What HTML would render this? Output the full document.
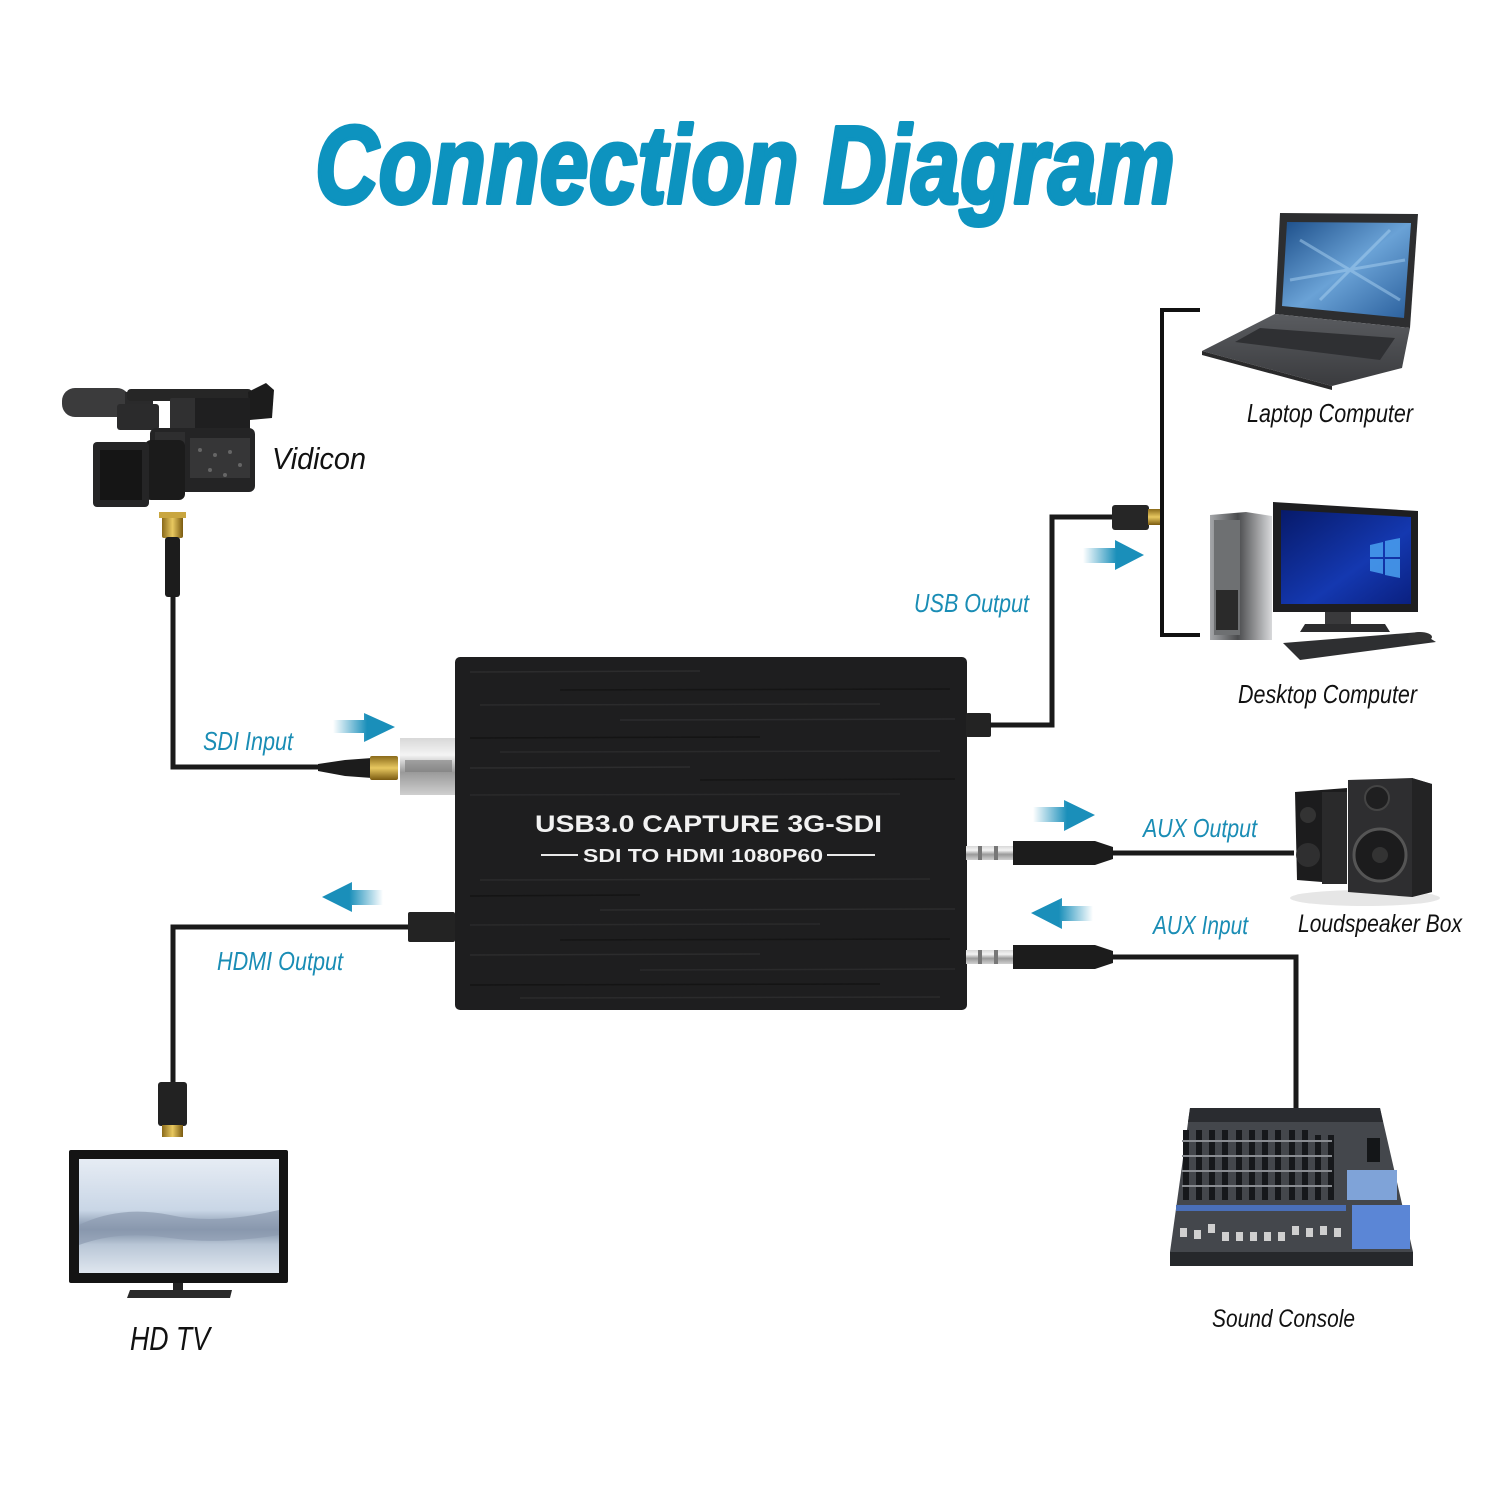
<!DOCTYPE html>
<html>
<head>
<meta charset="utf-8">
<style>
html,body{margin:0;padding:0;background:#fff;}
svg{display:block;}
.lbl{font-family:"Liberation Sans",sans-serif;font-style:italic;fill:#1a8db5;}
.blk{font-family:"Liberation Sans",sans-serif;font-style:italic;fill:#111;}
</style>
</head>
<body>
<svg width="1500" height="1500" viewBox="0 0 1500 1500" xmlns="http://www.w3.org/2000/svg">
<defs>
  <linearGradient id="arR" x1="0" x2="1" y1="0" y2="0">
    <stop offset="0" stop-color="#1a8fba" stop-opacity="0"/>
    <stop offset="0.55" stop-color="#1a8fba" stop-opacity="1"/>
    <stop offset="1" stop-color="#1a8fba"/>
  </linearGradient>
  <linearGradient id="arL" x1="1" x2="0" y1="0" y2="0">
    <stop offset="0" stop-color="#1a8fba" stop-opacity="0"/>
    <stop offset="0.55" stop-color="#1a8fba" stop-opacity="1"/>
    <stop offset="1" stop-color="#1a8fba"/>
  </linearGradient>
  <linearGradient id="gold" x1="0" x2="0" y1="0" y2="1">
    <stop offset="0" stop-color="#8a6a1a"/>
    <stop offset="0.5" stop-color="#e8c860"/>
    <stop offset="1" stop-color="#7a5a10"/>
  </linearGradient>
  <linearGradient id="goldH" x1="0" x2="1" y1="0" y2="0">
    <stop offset="0" stop-color="#8a6a1a"/>
    <stop offset="0.5" stop-color="#e8c860"/>
    <stop offset="1" stop-color="#7a5a10"/>
  </linearGradient>
  <linearGradient id="silver" x1="0" x2="0" y1="0" y2="1">
    <stop offset="0" stop-color="#d8d8d8"/>
    <stop offset="0.3" stop-color="#f4f4f4"/>
    <stop offset="0.6" stop-color="#9a9a9a"/>
    <stop offset="1" stop-color="#cfcfcf"/>
  </linearGradient>
  <linearGradient id="lapScr" x1="0" x2="1" y1="0" y2="1">
    <stop offset="0" stop-color="#1d4f8a"/>
    <stop offset="0.5" stop-color="#6aa2d6"/>
    <stop offset="1" stop-color="#2a5f9c"/>
  </linearGradient>
  <linearGradient id="deskScr" x1="0" x2="1" y1="0" y2="1">
    <stop offset="0" stop-color="#071a6a"/>
    <stop offset="0.6" stop-color="#1438b0"/>
    <stop offset="1" stop-color="#0a2080"/>
  </linearGradient>
  <linearGradient id="tvScr" x1="0" x2="0" y1="0" y2="1">
    <stop offset="0" stop-color="#e6ecf4"/>
    <stop offset="0.45" stop-color="#c9d6e6"/>
    <stop offset="0.62" stop-color="#7e8fa6"/>
    <stop offset="0.75" stop-color="#b9c6d6"/>
    <stop offset="1" stop-color="#dfe6ef"/>
  </linearGradient>
  <linearGradient id="lapBase" x1="0" x2="0" y1="0" y2="1">
    <stop offset="0" stop-color="#5a5c60"/>
    <stop offset="1" stop-color="#3a3b3e"/>
  </linearGradient>
  <linearGradient id="tower" x1="0" x2="1" y1="0" y2="0">
    <stop offset="0" stop-color="#a5a7aa"/>
    <stop offset="0.45" stop-color="#4a4b4d"/>
    <stop offset="1" stop-color="#d8d9db"/>
  </linearGradient>
</defs>

<rect width="1500" height="1500" fill="#fff"/>

<!-- Title -->
<text x="315" y="203" font-family="'Liberation Sans',sans-serif" font-weight="bold" font-style="italic" font-size="110" fill="#0d93bf" stroke="#0d93bf" stroke-width="4" stroke-linejoin="round" textLength="860" lengthAdjust="spacingAndGlyphs">Connection Diagram</text>

<!-- ============ Camera ============ -->
<g>
  <rect x="62" y="388" width="68" height="29" rx="13" fill="#3b3b3c"/>
  <rect x="125" y="392" width="28" height="20" fill="#2a2a2b"/>
  <rect x="127" y="389" width="125" height="12" rx="4" fill="#262626"/>
  <path d="M248 392 L266 383 L274 390 L272 418 L250 420 Z" fill="#1c1c1c"/>
  <rect x="117" y="404" width="42" height="26" rx="3" fill="#2b2b2c"/>
  <rect x="170" y="398" width="52" height="32" rx="2" fill="#303031"/>
  <rect x="195" y="398" width="55" height="36" fill="#1f1f20"/>
  <rect x="150" y="428" width="105" height="64" rx="6" fill="#242425"/>
  <rect x="190" y="438" width="60" height="40" fill="#363637"/>
  <rect x="155" y="432" width="30" height="58" fill="#2e2e2f"/>
  <rect x="145" y="440" width="40" height="60" rx="6" fill="#1b1b1b"/>
  <rect x="93" y="442" width="56" height="65" rx="4" fill="#252526"/>
  <rect x="100" y="450" width="42" height="50" fill="#151515"/>
  <circle cx="200" cy="450" r="2" fill="#666"/><circle cx="215" cy="455" r="2" fill="#666"/>
  <circle cx="230" cy="452" r="2" fill="#666"/><circle cx="240" cy="465" r="2" fill="#666"/>
  <circle cx="210" cy="470" r="2" fill="#666"/><circle cx="225" cy="475" r="2" fill="#666"/>
</g>
<text class="blk" x="272" y="469" font-size="31" textLength="94" lengthAdjust="spacingAndGlyphs">Vidicon</text>

<!-- SDI cable from camera -->
<rect x="162" y="512" width="21" height="26" rx="2" fill="url(#goldH)"/>
<rect x="159" y="512" width="27" height="6" fill="#c9a640"/>
<rect x="165" y="537" width="15" height="60" rx="3" fill="#1c1c1c"/>
<path d="M173 595 L173 767 L322 767" stroke="#1a1a1a" stroke-width="5" fill="none"/>
<path d="M318 764 L345 760 L372 758 L372 778 L345 776 L318 771 Z" fill="#1c1c1c"/>
<rect x="370" y="756" width="28" height="24" rx="2" fill="url(#gold)"/>
<!-- silver BNC on device -->
<rect x="400" y="738" width="57" height="57" fill="url(#silver)"/>
<rect x="405" y="760" width="47" height="12" fill="#7a7a7a" opacity="0.6"/>

<!-- SDI arrow -->
<polygon points="333,720 364,720 364,713 395,727 364,742 364,733 333,733" fill="url(#arR)"/>
<text class="lbl" x="203" y="750" font-size="26" textLength="90" lengthAdjust="spacingAndGlyphs">SDI Input</text>

<!-- ============ Device box ============ -->
<rect x="455" y="657" width="512" height="353" rx="5" fill="#1e1e1f"/>
<g stroke-width="1.5">
  <line x1="470" y1="672" x2="700" y2="671" stroke="#2c2c2d"/>
  <line x1="560" y1="690" x2="950" y2="689" stroke="#151515"/>
  <line x1="480" y1="705" x2="880" y2="704" stroke="#2b2b2c"/>
  <line x1="620" y1="720" x2="955" y2="719" stroke="#2c2c2e"/>
  <line x1="470" y1="738" x2="760" y2="737" stroke="#141414"/>
  <line x1="500" y1="752" x2="940" y2="751" stroke="#2a2a2b"/>
  <line x1="470" y1="768" x2="690" y2="767" stroke="#2d2d2e"/>
  <line x1="700" y1="780" x2="955" y2="779" stroke="#151515"/>
  <line x1="470" y1="795" x2="900" y2="794" stroke="#2a2a2b"/>
  <line x1="480" y1="880" x2="930" y2="879" stroke="#2b2b2c"/>
  <line x1="470" y1="896" x2="640" y2="895" stroke="#141414"/>
  <line x1="600" y1="910" x2="955" y2="909" stroke="#2c2c2d"/>
  <line x1="470" y1="925" x2="820" y2="924" stroke="#2a2a2b"/>
  <line x1="560" y1="940" x2="950" y2="939" stroke="#151515"/>
  <line x1="470" y1="955" x2="760" y2="954" stroke="#2c2c2d"/>
  <line x1="640" y1="970" x2="955" y2="969" stroke="#2a2a2b"/>
  <line x1="470" y1="985" x2="880" y2="984" stroke="#141414"/>
  <line x1="520" y1="998" x2="940" y2="997" stroke="#2b2b2c"/>
</g>
<text x="535" y="832" font-family="'Liberation Sans',sans-serif" font-weight="bold" font-size="24" fill="#f2f2f2" textLength="347" lengthAdjust="spacingAndGlyphs">USB3.0 CAPTURE 3G-SDI</text>
<text x="583" y="862" font-family="'Liberation Sans',sans-serif" font-weight="bold" font-size="18" fill="#f2f2f2" textLength="240" lengthAdjust="spacingAndGlyphs">SDI TO HDMI 1080P60</text>
<line x1="541" y1="855" x2="578" y2="855" stroke="#e8e8e8" stroke-width="2"/>
<line x1="827" y1="855" x2="875" y2="855" stroke="#e8e8e8" stroke-width="2"/>

<!-- ============ HDMI output ============ -->
<rect x="408" y="912" width="47" height="30" rx="2" fill="#232323"/>
<path d="M408 927 L173 927 L173 1082" stroke="#1a1a1a" stroke-width="5" fill="none"/>
<rect x="158" y="1082" width="29" height="44" rx="3" fill="#222"/>
<rect x="162" y="1125" width="21" height="12" fill="url(#goldH)"/>
<polygon points="383,890 352,890 352,882 322,897 352,912 352,905 383,905" fill="url(#arL)"/>
<text class="lbl" x="217" y="970" font-size="26" textLength="126" lengthAdjust="spacingAndGlyphs">HDMI Output</text>

<!-- TV -->
<rect x="69" y="1150" width="219" height="133" rx="2" fill="#141414"/>
<rect x="79" y="1159" width="200" height="114" fill="url(#tvScr)"/>
<path d="M79 1225 Q120 1205 170 1215 Q215 1225 279 1210 L279 1235 Q220 1245 170 1238 Q120 1230 79 1245 Z" fill="#8d9bb0" opacity="0.7"/>
<rect x="173" y="1283" width="10" height="8" fill="#222"/>
<polygon points="130,1290 232,1290 230,1298 127,1298" fill="#2a2a2a"/>
<text class="blk" x="130" y="1350" font-size="33" textLength="80" lengthAdjust="spacingAndGlyphs">HD TV</text>

<!-- ============ USB output ============ -->
<rect x="966" y="713" width="25" height="24" rx="2" fill="#232323"/>
<path d="M990 725 L1052 725 L1052 517 L1114 517" stroke="#1a1a1a" stroke-width="5" fill="none"/>
<rect x="1112" y="505" width="37" height="25" rx="3" fill="#262626"/>
<rect x="1148" y="509" width="12" height="16" fill="url(#gold)"/>
<polygon points="1083,548 1115,548 1115,540 1144,555 1115,570 1115,563 1083,563" fill="url(#arR)"/>
<text class="lbl" x="914" y="612" font-size="26" textLength="115" lengthAdjust="spacingAndGlyphs">USB Output</text>

<!-- bracket -->
<path d="M1200 310 L1162 310 L1162 635 L1200 635" stroke="#111" stroke-width="4" fill="none"/>

<!-- Laptop -->
<polygon points="1280,213 1418,214 1410,328 1275,314" fill="#2d2e30"/>
<polygon points="1287,222 1411,223 1404,318 1282,306" fill="url(#lapScr)"/>
<path d="M1300 240 L1400 300 M1320 300 L1390 230 M1290 280 L1405 260" stroke="#a8d0f0" stroke-width="3" opacity="0.5"/>
<polygon points="1275,314 1410,328 1402,368 1332,386 1202,351" fill="url(#lapBase)"/>
<polygon points="1260,328 1395,338 1380,360 1235,342" fill="#2f3033"/>
<polygon points="1202,351 1332,386 1332,390 1202,355" fill="#2a2a2b"/>
<text class="blk" x="1247" y="422" font-size="26" textLength="166" lengthAdjust="spacingAndGlyphs">Laptop Computer</text>

<!-- Desktop -->
<polygon points="1210,515 1246,512 1272,516 1272,640 1210,640" fill="url(#tower)"/>
<rect x="1214" y="520" width="26" height="115" fill="#6e7072"/>
<rect x="1216" y="590" width="22" height="40" fill="#2a2a2a"/>
<polygon points="1273,502 1418,511 1418,612 1273,612" fill="#1e1e20"/>
<polygon points="1281,510 1411,517 1411,604 1281,604" fill="url(#deskScr)"/>
<g fill="#4aa0f0" opacity="0.85">
  <polygon points="1370,545 1383,542 1383,557 1370,557"/>
  <polygon points="1385,541 1400,538 1400,557 1385,557"/>
  <polygon points="1370,559 1383,559 1383,574 1370,571"/>
  <polygon points="1385,559 1400,559 1400,578 1385,575"/>
</g>
<rect x="1325" y="612" width="26" height="13" fill="#3a3a3c"/>
<polygon points="1305,624 1385,624 1390,632 1300,632" fill="#2c2c2e"/>
<polygon points="1283,643 1420,632 1436,642 1300,660" fill="#2e2f31"/>
<ellipse cx="1420" cy="637" rx="12" ry="5" fill="#333"/>
<text class="blk" x="1238" y="703" font-size="26" textLength="179" lengthAdjust="spacingAndGlyphs">Desktop Computer</text>

<!-- ============ AUX output ============ -->
<rect x="966" y="846" width="47" height="14" fill="url(#silver)"/>
<rect x="978" y="846" width="4" height="14" fill="#777"/>
<rect x="994" y="846" width="4" height="14" fill="#777"/>
<path d="M1013 841 L1095 841 L1113 847 L1113 859 L1095 865 L1013 865 Z" fill="#1c1c1c"/>
<line x1="1112" y1="853" x2="1294" y2="853" stroke="#1a1a1a" stroke-width="5"/>
<polygon points="1033,807 1064,807 1064,800 1095,815 1064,831 1064,822 1033,822" fill="url(#arR)"/>
<text class="lbl" x="1143" y="837" font-size="26" textLength="114" lengthAdjust="spacingAndGlyphs">AUX Output</text>

<!-- Speakers -->
<ellipse cx="1365" cy="898" rx="75" ry="8" fill="#e6e6e6"/>
<polygon points="1295,792 1347,788 1347,884 1297,880" fill="#1c1c1d"/>
<rect x="1322" y="792" width="25" height="92" fill="#2a2a2b"/>
<circle cx="1308" cy="815" r="8" fill="#333"/>
<circle cx="1308" cy="855" r="12" fill="#2f2f30"/>
<polygon points="1348,780 1412,778 1432,784 1432,892 1412,897 1348,892" fill="#2e2e30"/>
<polygon points="1412,778 1432,784 1432,892 1412,897" fill="#232324"/>
<circle cx="1377" cy="798" r="12" fill="#1f1f20" stroke="#444" stroke-width="2"/>
<circle cx="1380" cy="855" r="26" fill="#1c1c1d" stroke="#555" stroke-width="3"/>
<circle cx="1380" cy="855" r="8" fill="#333"/>
<text class="blk" x="1298" y="932" font-size="25" textLength="164" lengthAdjust="spacingAndGlyphs">Loudspeaker Box</text>

<!-- ============ AUX input ============ -->
<rect x="966" y="950" width="47" height="14" fill="url(#silver)"/>
<rect x="978" y="950" width="4" height="14" fill="#777"/>
<rect x="994" y="950" width="4" height="14" fill="#777"/>
<path d="M1013 945 L1095 945 L1113 951 L1113 963 L1095 969 L1013 969 Z" fill="#1c1c1c"/>
<path d="M1112 957 L1296 957 L1296 1108" stroke="#1a1a1a" stroke-width="5" fill="none"/>
<polygon points="1093,906 1062,906 1062,898 1031,913 1062,929 1062,921 1093,921" fill="url(#arL)"/>
<text class="lbl" x="1153" y="934" font-size="26" textLength="95" lengthAdjust="spacingAndGlyphs">AUX Input</text>

<!-- Mixer -->
<polygon points="1190,1108 1380,1108 1413,1252 1413,1265 1170,1265 1170,1252" fill="#44474c"/>
<polygon points="1170,1252 1413,1252 1413,1266 1170,1266" fill="#26282b"/>
<polygon points="1190,1108 1380,1108 1383,1122 1188,1122" fill="#2a2c30"/>
<g fill="#16181b">
  <rect x="1183" y="1130" width="6" height="70"/>
  <rect x="1196" y="1130" width="6" height="70"/>
  <rect x="1209" y="1130" width="6" height="70"/>
  <rect x="1222" y="1130" width="6" height="70"/>
  <rect x="1236" y="1130" width="6" height="70"/>
  <rect x="1249" y="1130" width="6" height="70"/>
  <rect x="1262" y="1130" width="6" height="70"/>
  <rect x="1275" y="1130" width="6" height="70"/>
  <rect x="1289" y="1130" width="6" height="70"/>
  <rect x="1302" y="1130" width="6" height="70"/>
  <rect x="1315" y="1135" width="6" height="65"/>
  <rect x="1328" y="1135" width="6" height="65"/>
</g>
<g fill="#8a8d92">
  <rect x="1182" y="1140" width="150" height="2"/>
  <rect x="1182" y="1155" width="150" height="2"/>
  <rect x="1182" y="1170" width="150" height="2"/>
  <rect x="1182" y="1185" width="150" height="2"/>
</g>
<rect x="1176" y="1205" width="170" height="6" fill="#4a6fb8"/>
<g fill="#cfcfcf">
  <rect x="1180" y="1228" width="7" height="9"/>
  <rect x="1194" y="1230" width="7" height="9"/>
  <rect x="1208" y="1224" width="7" height="9"/>
  <rect x="1222" y="1232" width="7" height="9"/>
  <rect x="1236" y="1232" width="7" height="9"/>
  <rect x="1250" y="1232" width="7" height="9"/>
  <rect x="1264" y="1232" width="7" height="9"/>
  <rect x="1278" y="1232" width="7" height="9"/>
  <rect x="1292" y="1226" width="7" height="9"/>
  <rect x="1306" y="1228" width="7" height="9"/>
  <rect x="1320" y="1226" width="7" height="9"/>
  <rect x="1334" y="1228" width="7" height="9"/>
</g>
<rect x="1347" y="1170" width="50" height="30" fill="#7fa3d8"/>
<rect x="1352" y="1205" width="58" height="44" fill="#5b86d6"/>
<rect x="1367" y="1138" width="13" height="24" fill="#141618"/>
<text class="blk" x="1212" y="1327" font-size="25" textLength="143" lengthAdjust="spacingAndGlyphs">Sound Console</text>
</svg>
</body>
</html>
